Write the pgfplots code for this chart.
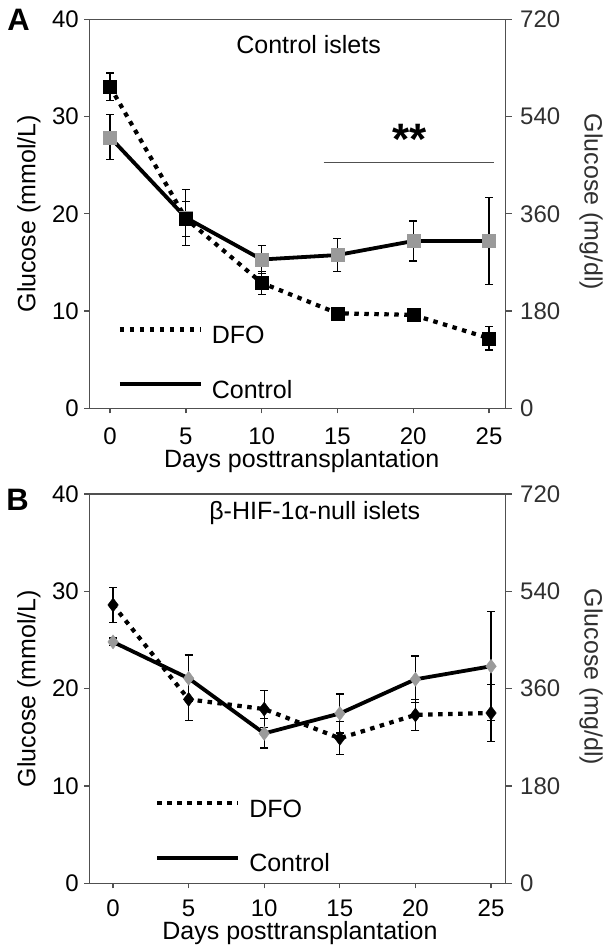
\documentclass[border=0pt]{standalone}
\usepackage{fontspec}
\setmainfont{Liberation Sans}
\usepackage{pgfplots}
\pgfplotsset{compat=1.18}

\definecolor{gmark}{HTML}{9A9A9A}
\definecolor{axgray}{HTML}{505050}
\definecolor{rtext}{HTML}{303030}

\pgfplotstableread{
x y e
0 33.07 1.4
5 19.5 1.8
10 12.9 1.2
15 9.77 0.5
20 9.6 0.6
25 7.2 1.2
}\AdfoTable
\pgfplotstableread{
x y e
0 27.87 2.3
5 19.6 2.9
10 15.3 1.4
15 15.76 1.7
20 17.2 2.05
25 17.2 4.5
}\AconTable
\pgfplotstableread{
x y e
0 28.6 1.8
5 18.9 2.2
10 17.9 1.9
15 14.9 1.7
20 17.3 1.6
25 17.5 2.9
}\BdfoTable
\pgfplotstableread{
x y e
0 24.8 0.4
5 21.06 2.4
10 15.4 1.5
15 17.45 2.0
20 20.96 2.4
25 22.3 5.6
}\BconTable

\pgfplotsset{
  panel/.style={
    scale only axis, width=416.4pt, height=389pt,
    ymin=0, ymax=40, ytick={0,10,20,30,40},
    xtick={0,5,10,15,20,25},
    xtick pos=bottom, ytick pos=left,
    tick align=outside, major tick length=5pt,
    axis line style={axgray, line width=1.3pt},
    every tick/.style={axgray, line width=1.3pt},
    /pgf/number format/assume math mode=true,
    tick label style={font=\fontsize{24}{28}\selectfont},
    yticklabel style={xshift=-2pt},
    label style={font=\fontsize{25}{30}\selectfont},
    xlabel={Days posttransplantation},
    ylabel={Glucose (mmol/L)},
    ylabel style={at={(axis description cs:-0.145,0.5)}, anchor=center},
    clip=false,
    reverse legend=true,
    legend cell align=left,
    legend image code/.code={\draw[##1, mark=none] (0pt,6pt) -- (81pt,6pt);},
    legend style={draw=none, fill=none, row sep=31pt, column sep=7pt,
      nodes={inner sep=2pt, font=\fontsize{25}{30}\selectfont}},
  },
  rpanel/.style={
    scale only axis, width=416.4pt, height=389pt,
    xmin=0, xmax=25,
    ymin=0, ymax=720, ytick={0,180,360,540,720},
    axis x line=none, axis y line*=right,
    tick align=outside, major tick length=6pt,
    axis line style={axgray, line width=1.3pt},
    every tick/.style={axgray, line width=1.3pt},
    /pgf/number format/assume math mode=true,
    tick label style={font=\fontsize{24}{28}\selectfont, text=rtext},
    yticklabel style={xshift=5pt},
    ylabel={Glucose (mg/dl)},
    ylabel style={font=\fontsize{25}{30}\selectfont, text=rtext, rotate=180,
      at={(axis description cs:1.205,0.53)}, anchor=center},
  },
  dfo/.style={black, line width=4.2pt, line cap=butt, dash pattern=on 4.5pt off 5.5pt,
    mark options={solid, fill=black, draw=black, line width=0.4pt}},
  con/.style={black, line width=3.8pt, solid,
    mark options={solid, fill=gmark, draw=gmark, line width=0.4pt}},
  ebar/.style={error bars/.cd, y dir=both, y explicit,
    error bar style={line width=1.2pt, black, solid},
    error mark options={line width=1.2pt, black, mark size=4pt, rotate=90, solid}},
}

\begin{document}
\begin{tikzpicture}
\useasboundingbox (0pt,0pt) rectangle (605pt,947pt);

% ---------------- Panel A ----------------
\begin{axis}[panel, at={(89.3pt,538.7pt)}, anchor=south west,
  xmin=-1.37, xmax=26.1,
  xticklabel style={inner sep=0pt, anchor=north, yshift=-14pt},
  xlabel style={inner sep=0pt, at={(axis description cs:0.51,-0.135)}, anchor=center},
  legend style={at={(axis cs:0.29,8.9)}, anchor=north west}]
\addplot[con, mark=square*, mark size=6.5pt, ebar] table[x=x, y=y, y error=e] {\AconTable};
\addlegendentry{Control}
\addplot[dfo, mark=square*, mark size=6.5pt, ebar] table[x=x, y=y, y error=e] {\AdfoTable};
\addlegendentry{DFO}
\addplot[forget plot, color=axgray, line width=1.5pt, mark=none] coordinates {(14.08,25.25) (25.35,25.25)};
\node[font=\fontsize{25}{30}\selectfont] at (axis cs:13.1,37.36) {Control islets};
\node[font=\bfseries\fontsize{44}{46}\selectfont] at (axis cs:19.75,27.7) {**};
\end{axis}
\begin{axis}[rpanel, at={(89.3pt,538.7pt)}, anchor=south west]
\addplot[draw=none, mark=none, forget plot] coordinates {(0,0) (25,720)};
\end{axis}

% ---------------- Panel B ----------------
\begin{axis}[panel, at={(89.3pt,63.7pt)}, anchor=south west, height=389.3pt,
  xmin=-1.57, xmax=25.97,
  xticklabel style={inner sep=0pt, anchor=north, yshift=-11pt},
  xlabel style={inner sep=0pt, at={(axis description cs:0.506,-0.128)}, anchor=center},
  legend style={at={(axis cs:2.57,9.0)}, anchor=north west}]
\addplot[con, mark=diamond*, mark size=7pt, ebar] table[x=x, y=y, y error=e] {\BconTable};
\addlegendentry{Control}
\addplot[dfo, mark=diamond*, mark size=7pt, ebar] table[x=x, y=y, y error=e] {\BdfoTable};
\addlegendentry{DFO}
\node[font=\fontsize{25}{30}\selectfont] at (axis cs:13.34,38.0) {β-HIF-1α-null islets};
\end{axis}
\begin{axis}[rpanel, at={(89.3pt,63.7pt)}, anchor=south west, height=389.3pt]
\addplot[draw=none, mark=none, forget plot] coordinates {(0,0) (25,720)};
\end{axis}

\node[font=\bfseries\fontsize{31}{34}\selectfont] at (18.5pt,927pt) {A};
\node[font=\bfseries\fontsize{31}{34}\selectfont] at (17.5pt,447pt) {B};
\end{tikzpicture}
\end{document}
